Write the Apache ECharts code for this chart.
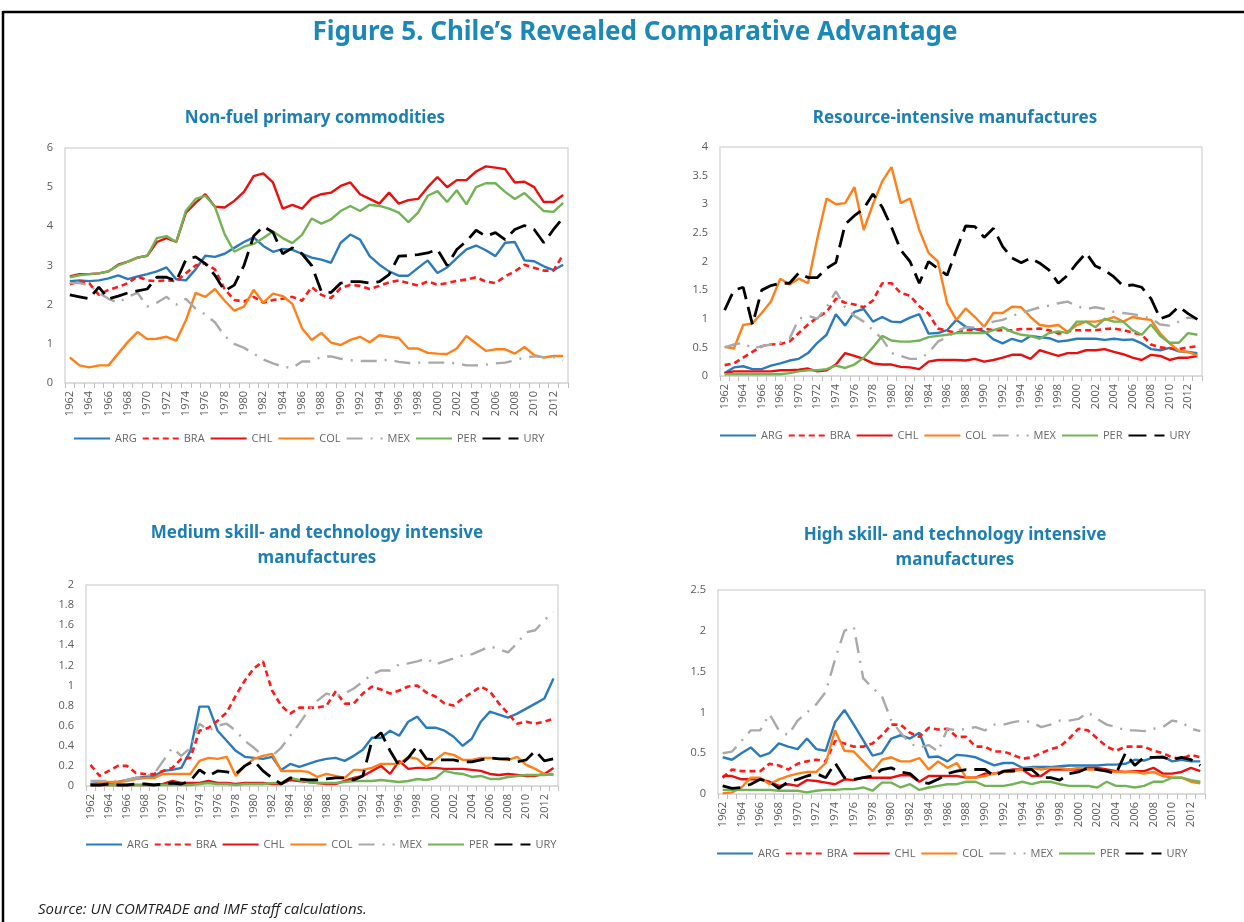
<!DOCTYPE html>
<html>
<head>
<meta charset="utf-8">
<script src="https://cdn.jsdelivr.net/npm/echarts@6/dist/echarts.min.js"></script>
<style>
  html, body { margin: 0; padding: 0; background: #fff; }
  #c { width: 1244px; height: 922px; }
</style>
</head>
<body>
<div id="c"></div>
<script>
const years = [];
for (let y = 1962; y <= 2013; y++) years.push(String(y));
const countries = ["ARG", "BRA", "CHL", "COL", "MEX", "PER", "URY"];

// Non-fuel primary commodities
const primARG = [2.6,2.62,2.6,2.62,2.67,2.75,2.65,2.72,2.78,2.85, 2.95,2.65,2.62,2.9,3.25,3.22,3.3,3.45,3.6,3.72, 3.5,3.35,3.42,3.4,3.3,3.2,3.15,3.07,3.58,3.79, 3.66,3.24,3.02,2.85,2.74,2.74,2.94,3.13,2.81,2.95, 3.19,3.41,3.51,3.39,3.24,3.58,3.6,3.13,3.11,2.98, 2.88,3.02];
const primBRA = [2.52,2.6,2.55,2.25,2.38,2.45,2.55,2.72,2.62,2.6, 2.62,2.6,2.8,3.0,3.05,2.9,2.4,2.12,2.08,2.2, 2.05,2.12,2.15,2.2,2.1,2.45,2.25,2.17,2.42,2.51, 2.48,2.4,2.48,2.57,2.62,2.55,2.49,2.59,2.51,2.55, 2.61,2.64,2.7,2.59,2.55,2.72,2.85,3.02,2.94,2.87, 2.87,3.28];
const primCHL = [2.72,2.78,2.78,2.8,2.85,3.02,3.1,3.2,3.25,3.6, 3.7,3.6,4.35,4.6,4.82,4.5,4.48,4.65,4.88,5.28, 5.35,5.12,4.45,4.55,4.45,4.72,4.82,4.86,5.03,5.12, 4.82,4.7,4.58,4.86,4.58,4.67,4.7,5.0,5.26,5.0, 5.18,5.18,5.4,5.53,5.5,5.46,5.12,5.14,5.0,4.62, 4.62,4.8];
const primCOL = [0.65,0.45,0.4,0.45,0.45,0.75,1.05,1.3,1.12,1.13, 1.18,1.08,1.6,2.3,2.2,2.4,2.1,1.85,1.95,2.38, 2.05,2.28,2.22,2.02,1.4,1.1,1.28,1.03,0.97,1.1, 1.18,1.04,1.22,1.18,1.15,0.88,0.88,0.77,0.75,0.74, 0.88,1.2,1.01,0.82,0.86,0.86,0.75,0.92,0.71,0.65, 0.69,0.69];
const primMEX = [2.55,2.55,2.5,2.3,2.15,2.05,2.2,2.3,1.95,2.05, 2.2,2.0,2.15,1.9,1.75,1.55,1.2,1.0,0.9,0.75, 0.6,0.5,0.42,0.38,0.55,0.55,0.67,0.68,0.62,0.58, 0.56,0.56,0.56,0.6,0.54,0.51,0.52,0.52,0.52,0.52, 0.5,0.45,0.45,0.47,0.5,0.52,0.58,0.65,0.68,0.66, 0.66,0.58];
const primPER = [2.7,2.75,2.78,2.8,2.85,3.0,3.1,3.2,3.25,3.7, 3.75,3.6,4.4,4.7,4.78,4.5,3.8,3.35,3.48,3.55, 3.7,3.87,3.7,3.57,3.78,4.2,4.07,4.18,4.39,4.52, 4.39,4.55,4.52,4.45,4.35,4.11,4.35,4.78,4.9,4.62, 4.92,4.56,5.0,5.1,5.1,4.88,4.7,4.85,4.62,4.39, 4.37,4.6];
const primURY = [2.25,2.2,2.15,2.45,2.15,2.22,2.3,2.35,2.4,2.7, 2.7,2.6,3.15,3.22,3.05,2.75,2.35,2.5,3.0,3.75, 4.0,3.85,3.3,3.45,3.3,3.0,2.34,2.31,2.55,2.59, 2.59,2.55,2.59,2.77,3.24,3.25,3.28,3.32,3.41,3.0, 3.41,3.62,3.9,3.75,3.84,3.66,3.92,4.02,3.92,3.58, 3.92,4.22];

// Resource-intensive manufactures
const resARG = [0.05,0.15,0.17,0.12,0.12,0.18,0.22,0.27,0.3,0.4, 0.58,0.72,1.08,0.88,1.12,1.17,0.95,1.03,0.95,0.94, 1.02,1.08,0.74,0.75,0.8,0.98,0.86,0.82,0.78,0.64, 0.57,0.65,0.6,0.7,0.68,0.66,0.6,0.62,0.65,0.65, 0.65,0.63,0.65,0.63,0.64,0.57,0.47,0.45,0.49,0.43, 0.42,0.4];
const resBRA = [0.19,0.22,0.32,0.42,0.52,0.55,0.56,0.6,0.75,0.9, 1.02,1.12,1.35,1.28,1.25,1.2,1.32,1.62,1.62,1.45, 1.4,1.22,1.09,0.83,0.79,0.75,0.8,0.8,0.83,0.8, 0.8,0.8,0.82,0.82,0.83,0.8,0.74,0.78,0.8,0.8, 0.8,0.82,0.83,0.8,0.76,0.72,0.55,0.5,0.48,0.47, 0.5,0.52];
const resCHL = [0.05,0.08,0.08,0.08,0.08,0.08,0.1,0.1,0.11,0.13, 0.08,0.1,0.2,0.4,0.35,0.3,0.22,0.2,0.2,0.16, 0.15,0.12,0.25,0.28,0.28,0.28,0.27,0.3,0.25,0.28, 0.32,0.37,0.37,0.3,0.45,0.4,0.35,0.4,0.4,0.45, 0.45,0.47,0.42,0.38,0.32,0.28,0.37,0.35,0.28,0.32, 0.32,0.35];
const resCOL = [0.51,0.48,0.89,0.92,1.1,1.3,1.7,1.6,1.7,1.62, 2.4,3.1,3.0,3.02,3.3,2.55,3.0,3.4,3.65,3.02, 3.1,2.55,2.15,2.0,1.27,0.98,1.18,1.03,0.86,1.1, 1.1,1.21,1.2,1.03,0.89,0.87,0.89,0.77,0.89,0.95, 0.95,0.98,1.03,0.95,1.03,1.0,0.98,0.74,0.57,0.44, 0.42,0.36];
const resMEX = [0.5,0.55,0.58,0.48,0.52,0.55,0.58,0.65,1.0,1.05, 1.0,1.2,1.48,1.2,1.05,0.95,0.8,0.65,0.4,0.35, 0.3,0.3,0.4,0.6,0.68,0.78,0.85,0.85,0.88,0.95, 0.98,1.05,1.1,1.15,1.2,1.23,1.27,1.3,1.22,1.17, 1.2,1.17,1.12,1.1,1.08,1.05,1.0,0.9,0.88,0.95, 1.02,1.0];
const resPER = [0.03,0.03,0.03,0.03,0.03,0.03,0.03,0.05,0.08,0.1, 0.1,0.12,0.18,0.14,0.2,0.32,0.5,0.7,0.62,0.6, 0.6,0.62,0.68,0.7,0.72,0.75,0.75,0.75,0.75,0.8, 0.85,0.77,0.72,0.7,0.65,0.75,0.78,0.75,0.95,0.95, 0.85,1.0,0.95,0.95,0.8,0.72,0.9,0.7,0.58,0.58, 0.75,0.72];
const resURY = [1.15,1.5,1.55,0.9,1.5,1.58,1.62,1.62,1.8,1.72, 1.72,1.88,1.98,2.65,2.8,2.92,3.18,2.95,2.6,2.2, 2.0,1.62,2.0,1.88,1.76,2.2,2.62,2.61,2.42,2.58, 2.26,2.06,1.98,2.06,1.97,1.85,1.62,1.76,1.97,2.15, 1.92,1.85,1.73,1.57,1.59,1.55,1.35,1.0,1.06,1.21, 1.09,0.99];

// Medium skill- and technology intensive manufactures
const medARG = [0.02,0.03,0.03,0.04,0.06,0.08,0.09,0.1,0.15,0.16, 0.18,0.35,0.79,0.79,0.55,0.45,0.35,0.29,0.28,0.27, 0.29,0.16,0.22,0.19,0.22,0.25,0.27,0.28,0.25,0.3, 0.36,0.48,0.48,0.55,0.5,0.64,0.69,0.58,0.58,0.55, 0.49,0.4,0.47,0.64,0.74,0.71,0.68,0.72,0.77,0.82, 0.87,1.07];
const medBRA = [0.21,0.1,0.15,0.2,0.2,0.13,0.12,0.12,0.15,0.18, 0.27,0.28,0.55,0.58,0.65,0.73,0.9,1.05,1.17,1.24, 0.95,0.8,0.72,0.78,0.78,0.78,0.8,0.94,0.82,0.82, 0.92,0.99,0.96,0.92,0.95,0.99,1.0,0.93,0.89,0.82, 0.8,0.87,0.93,0.99,0.94,0.82,0.72,0.62,0.64,0.62, 0.64,0.67];
const medCHL = [0.01,0.01,0.01,0.01,0.01,0.01,0.01,0.01,0.02,0.05, 0.03,0.03,0.03,0.05,0.03,0.03,0.02,0.03,0.03,0.03, 0.02,0.02,0.06,0.05,0.04,0.03,0.02,0.02,0.05,0.08, 0.1,0.15,0.2,0.12,0.25,0.17,0.18,0.18,0.18,0.17, 0.17,0.17,0.16,0.15,0.12,0.11,0.12,0.11,0.1,0.1, 0.12,0.18];
const medCOL = [0.01,0.03,0.04,0.04,0.05,0.07,0.08,0.08,0.12,0.12, 0.12,0.12,0.25,0.28,0.27,0.29,0.1,0.2,0.27,0.3, 0.32,0.15,0.15,0.15,0.14,0.09,0.12,0.1,0.08,0.16, 0.16,0.18,0.22,0.22,0.22,0.29,0.27,0.19,0.26,0.33, 0.31,0.26,0.26,0.28,0.28,0.27,0.26,0.29,0.21,0.17, 0.12,0.11];
const medMEX = [0.05,0.05,0.05,0.05,0.06,0.08,0.1,0.12,0.25,0.38, 0.3,0.38,0.62,0.55,0.6,0.62,0.55,0.45,0.38,0.3, 0.3,0.38,0.5,0.62,0.75,0.85,0.92,0.89,0.92,0.97, 1.04,1.11,1.15,1.15,1.21,1.22,1.24,1.27,1.21,1.24, 1.27,1.3,1.31,1.35,1.39,1.36,1.33,1.42,1.53,1.55, 1.65,1.73];
const medPER = [0.01,0.01,0.01,0.01,0.01,0.01,0.01,0.01,0.01,0.01, 0.01,0.01,0.02,0.03,0.02,0.02,0.01,0.02,0.02,0.02, 0.03,0.03,0.08,0.06,0.04,0.03,0.03,0.03,0.04,0.05, 0.05,0.05,0.06,0.05,0.04,0.05,0.07,0.06,0.08,0.15, 0.13,0.12,0.09,0.1,0.07,0.07,0.09,0.1,0.11,0.11, 0.11,0.12];
const medURY = [0.01,0.01,0.02,0.01,0.01,0.02,0.02,0.01,0.02,0.03, 0.02,0.05,0.16,0.1,0.15,0.14,0.12,0.2,0.25,0.15, 0.08,0.02,0.08,0.07,0.06,0.06,0.07,0.08,0.08,0.06, 0.1,0.45,0.53,0.35,0.2,0.28,0.4,0.27,0.26,0.26, 0.26,0.24,0.24,0.26,0.28,0.27,0.27,0.24,0.26,0.35, 0.25,0.27];

// High skill- and technology intensive manufactures
const highARG = [0.45,0.42,0.5,0.57,0.46,0.5,0.62,0.58,0.55,0.68, 0.55,0.53,0.88,1.03,0.85,0.66,0.47,0.5,0.68,0.72, 0.68,0.75,0.45,0.46,0.4,0.48,0.47,0.45,0.4,0.35, 0.38,0.38,0.32,0.33,0.33,0.33,0.34,0.35,0.35,0.35, 0.35,0.36,0.36,0.37,0.42,0.41,0.45,0.46,0.4,0.42, 0.4,0.4];
const highBRA = [0.2,0.3,0.28,0.28,0.28,0.37,0.35,0.3,0.37,0.4, 0.42,0.4,0.65,0.62,0.58,0.58,0.62,0.72,0.85,0.85, 0.75,0.7,0.81,0.79,0.8,0.7,0.7,0.58,0.58,0.52, 0.52,0.48,0.43,0.45,0.5,0.55,0.58,0.68,0.8,0.78, 0.68,0.58,0.53,0.58,0.58,0.58,0.53,0.5,0.45,0.43, 0.48,0.45];
const highCHL = [0.22,0.22,0.18,0.18,0.18,0.15,0.1,0.12,0.1,0.17, 0.16,0.14,0.12,0.18,0.17,0.2,0.2,0.2,0.2,0.23, 0.23,0.15,0.22,0.22,0.22,0.22,0.2,0.2,0.25,0.25, 0.28,0.3,0.3,0.22,0.22,0.3,0.3,0.3,0.3,0.32, 0.32,0.3,0.28,0.27,0.28,0.28,0.32,0.25,0.25,0.27, 0.32,0.28];
const highCOL = [0.01,0.02,0.08,0.2,0.2,0.12,0.18,0.22,0.25,0.27, 0.27,0.38,0.78,0.53,0.52,0.4,0.28,0.42,0.45,0.4, 0.4,0.44,0.3,0.4,0.32,0.38,0.2,0.2,0.22,0.25, 0.27,0.28,0.3,0.32,0.3,0.32,0.32,0.3,0.32,0.3, 0.3,0.28,0.27,0.27,0.27,0.25,0.27,0.22,0.2,0.2, 0.15,0.13];
const highMEX = [0.5,0.52,0.65,0.78,0.78,0.98,0.78,0.72,0.9,1.0, 1.1,1.25,1.65,2.0,2.05,1.42,1.3,1.2,0.9,0.75, 0.62,0.57,0.6,0.52,0.8,0.78,0.8,0.82,0.78,0.85, 0.85,0.88,0.9,0.88,0.82,0.85,0.9,0.9,0.92,1.0, 0.92,0.85,0.82,0.78,0.78,0.77,0.8,0.82,0.9,0.88, 0.8,0.77];
const highPER = [0.05,0.05,0.05,0.05,0.05,0.05,0.04,0.04,0.04,0.02, 0.04,0.05,0.05,0.06,0.06,0.08,0.04,0.14,0.14,0.08, 0.12,0.05,0.08,0.1,0.12,0.12,0.15,0.15,0.1,0.1, 0.1,0.12,0.15,0.12,0.15,0.15,0.12,0.1,0.1,0.1, 0.08,0.15,0.1,0.1,0.08,0.1,0.15,0.15,0.2,0.2, 0.17,0.15];
const highURY = [0.1,0.07,0.08,0.12,0.18,0.15,0.07,0.15,0.18,0.22, 0.25,0.2,0.38,0.2,0.18,0.2,0.22,0.3,0.32,0.27, 0.25,0.15,0.13,0.18,0.25,0.28,0.3,0.3,0.3,0.22, 0.28,0.28,0.3,0.3,0.2,0.2,0.17,0.25,0.27,0.32, 0.3,0.28,0.25,0.5,0.35,0.45,0.45,0.45,0.42,0.45, 0.42,0.35];

const panelTitles = ["Non-fuel primary commodities", "Resource-intensive manufactures",
  "Medium skill- and technology intensive\nmanufactures", "High skill- and technology intensive\nmanufactures"];
const yMax = [6, 4, 2, 2.5];
const yStep = [1, 0.5, 0.2, 0.5];
const panelData = [
  [primARG, primBRA, primCHL, primCOL, primMEX, primPER, primURY],
  [resARG, resBRA, resCHL, resCOL, resMEX, resPER, resURY],
  [medARG, medBRA, medCHL, medCOL, medMEX, medPER, medURY],
  [highARG, highBRA, highCHL, highCOL, highMEX, highPER, highURY],
];

const STYLE = {
  ARG: { color: "#2b7bba", type: "solid", width: 2.4 },
  BRA: { color: "#ff1a1a", type: [6, 4], width: 2.6 },
  CHL: { color: "#e8100f", type: "solid", width: 2.4 },
  COL: { color: "#ff8019", type: "solid", width: 2.4 },
  MEX: { color: "#a9a9a9", type: [16, 8, 2, 8], width: 2.4 },
  PER: { color: "#72b356", type: "solid", width: 2.4 },
  URY: { color: "#000000", type: [18, 8], width: 2.8 },
};
// plot boxes, title centre (tx, ty), legend left/top (lx, ly)
const GRIDS = [
  { left: 65, top: 148, width: 503, height: 235, tx: 310, ty: 101, lx: 68, ly: 428 },
  { left: 720, top: 147, width: 482, height: 229, tx: 950, ty: 101, lx: 714, ly: 425 },
  { left: 86, top: 585, width: 472, height: 201, tx: 312, ty: 516, lx: 80, ly: 834 },
  { left: 718, top: 590, width: 487, height: 204, tx: 950, ty: 518, lx: 711, ly: 843 },
];

const chart = echarts.init(document.getElementById("c"));
const series = [];
panelData.forEach((arr, p) => arr.forEach((d, i) => {
  const s = STYLE[countries[i]];
  series.push({
    name: countries[i], type: "line", xAxisIndex: p, yAxisIndex: p, data: d,
    symbol: "none", smooth: false, animation: false,
    lineStyle: { color: s.color, type: s.type, width: s.width, cap: "butt" },
    itemStyle: { color: s.color },
    z: i === 6 ? 3 : 2,
  });
}));

const font = "'Open Sans', 'Noto Sans', sans-serif";
chart.setOption({
  backgroundColor: "#fff",
  animation: false,
  title: [
    { text: "Figure 5. Chile\u2019s Revealed Comparative Advantage", left: 630, top: 15, textAlign: "center",
      textStyle: { fontFamily: "'Noto Sans', sans-serif", fontSize: 26, fontWeight: "bold", color: "#1b88b8" } },
    ...GRIDS.map((g, i) => ({
      text: panelTitles[i], left: g.tx, top: g.ty, textAlign: "center",
      textStyle: { fontFamily: "'Noto Sans', sans-serif", fontSize: 17, fontWeight: "bold", color: "#1c7eb2", lineHeight: 25 },
    })),
  ],
  legend: GRIDS.map(g => ({
    data: countries, left: g.lx, top: g.ly, width: 700, orient: "horizontal",
    itemWidth: 36, itemHeight: 10, itemGap: 5, selectedMode: false,
    itemStyle: { opacity: 0, borderWidth: 0 },
    textStyle: { fontFamily: font, fontSize: 11, color: "#666" },
  })),
  grid: GRIDS.map(g => ({ left: g.left, top: g.top, width: g.width, height: g.height, show: true, borderColor: "#d9d9d9", borderWidth: 1.5, containLabel: false })),
  xAxis: GRIDS.map((g, i) => ({
    type: "category", gridIndex: i, data: years, boundaryGap: true,
    axisLine: { lineStyle: { color: "#d9d9d9", width: 1.5 } },
    axisTick: { show: true, interval: 0, length: 5, lineStyle: { color: "#bfbfbf" } },
    axisLabel: { interval: 1, rotate: 90, fontFamily: font, fontSize: 11, color: "#595959", margin: 8 },
  })),
  yAxis: GRIDS.map((g, i) => ({
    type: "value", gridIndex: i, min: 0, max: yMax[i], interval: yStep[i],
    axisLine: { show: false }, axisTick: { show: false }, splitLine: { show: false },
    axisLabel: { fontFamily: font, fontSize: 11, color: "#595959", margin: 12,
      formatter: v => String(Math.round(v * 10) / 10) },
  })),
  graphic: [
    { type: "line", shape: { x1: 3, y1: 12, x2: 1244, y2: 12 }, style: { stroke: "#000", lineWidth: 2.5 } },
    { type: "line", shape: { x1: 3, y1: 11, x2: 3, y2: 922 }, style: { stroke: "#000", lineWidth: 2.5 } },
    { type: "text", left: 38, top: 902, style: { text: "Source: UN COMTRADE and IMF staff calculations.",
      font: "italic 15px 'Open Sans', 'Noto Sans', sans-serif", fill: "#222" } },
  ],
  series,
});
</script>
</body>
</html>
